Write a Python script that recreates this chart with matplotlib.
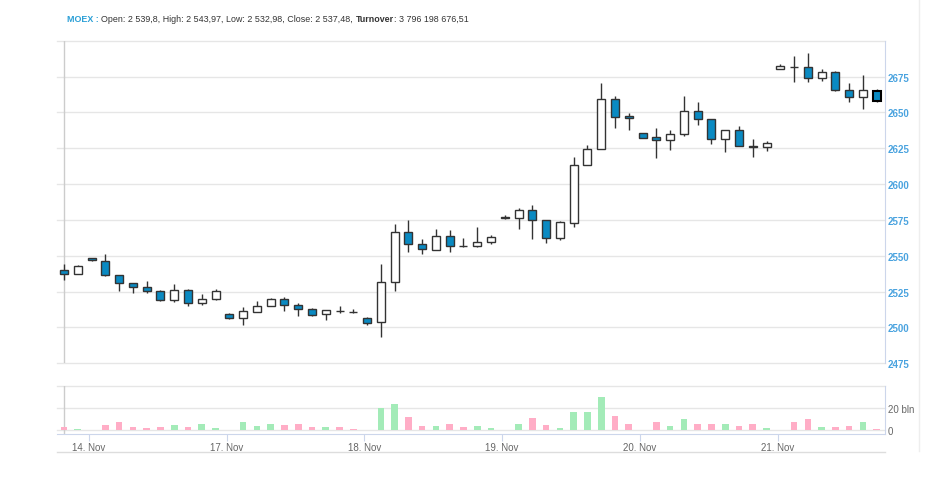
import matplotlib.pyplot as plt
import numpy as np
from matplotlib.patches import Rectangle

# hourly candles, MOEX index
opens = [2539.8, 2537.3, 2548.2, 2546.3, 2536.6, 2530.8, 2528.5, 2525.5, 2519.2, 2526.4,
         2517.1, 2520.1, 2509.5, 2506.25, 2510.6, 2515.0, 2519.7, 2515.7, 2513.2, 2509.3,
         2511.6, 2510.9, 2506.9, 2503.5, 2532.0, 2566.7, 2557.9, 2554.2, 2563.7, 2557.0,
         2556.5, 2559.3, 2576.5, 2576.4, 2581.9, 2574.8, 2562.5, 2573.1, 2613.4, 2624.8,
         2659.5, 2647.2, 2635.4, 2633.1, 2630.8, 2634.7, 2650.7, 2645.1, 2631.3, 2637.5,
         2626.3, 2625.7, 2680.1, 2682.0, 2681.7, 2674.3, 2678.5, 2665.7, 2660.6, 2665.0]
highs = [2543.97, 2543.3, 2548.6, 2550.9, 2536.8, 2531.0, 2532.6, 2526.0, 2530.3, 2526.6,
         2523.1, 2527.1, 2510.0, 2514.6, 2518.5, 2520.8, 2521.5, 2516.9, 2513.9, 2512.2,
         2515.0, 2513.0, 2507.0, 2544.2, 2572.5, 2575.0, 2561.6, 2569.0, 2567.8, 2562.7,
         2570.4, 2564.4, 2578.2, 2583.3, 2585.6, 2575.0, 2574.0, 2618.75, 2627.5, 2670.4,
         2661.6, 2649.5, 2635.6, 2639.1, 2637.5, 2661.6, 2657.2, 2645.5, 2637.8, 2640.3,
         2631.7, 2629.9, 2683.8, 2689.6, 2691.2, 2680.1, 2678.6, 2670.8, 2676.2, 2666.4]
lows = [2532.98, 2537.1, 2546.5, 2536.1, 2525.5, 2524.3, 2523.8, 2518.5, 2517.6, 2515.3,
        2515.7, 2519.4, 2505.6, 2501.9, 2510.5, 2514.8, 2511.6, 2508.1, 2508.1, 2504.9,
        2510.0, 2510.2, 2501.4, 2493.1, 2525.5, 2552.8, 2551.2, 2554.0, 2552.8, 2556.0,
        2556.4, 2558.3, 2575.7, 2568.8, 2561.6, 2558.8, 2560.9, 2570.4, 2613.4, 2624.8,
        2638.9, 2637.5, 2632.0, 2618.3, 2623.6, 2633.3, 2641.4, 2628.2, 2622.5, 2626.4,
        2618.75, 2623.2, 2680.0, 2671.5, 2671.1, 2672.2, 2664.6, 2657.2, 2652.1, 2657.5]
closes = [2537.48, 2543.1, 2547.0, 2536.6, 2530.8, 2528.5, 2525.5, 2519.4, 2526.4, 2517.4,
          2519.9, 2525.5, 2506.5, 2511.6, 2515.3, 2519.9, 2515.7, 2513.2, 2509.0, 2512.0,
          2511.4, 2510.7, 2503.0, 2531.5, 2566.7, 2557.9, 2554.4, 2563.7, 2556.9, 2556.8,
          2559.3, 2563.2, 2576.7, 2581.9, 2574.8, 2562.5, 2573.6, 2613.0, 2624.8, 2659.5,
          2647.0, 2646.3, 2632.2, 2630.8, 2634.7, 2650.7, 2645.1, 2631.5, 2637.5, 2626.6,
          2626.1, 2628.5, 2682.2, 2681.8, 2674.3, 2678.2, 2665.7, 2660.9, 2665.5, 2657.6]
# turnover, bln RUB
volumes = [3.3, 0.9, 0.0, 4.8, 7.6, 3.3, 2.1, 2.7, 4.8, 2.7,
           5.5, 2.1, 0.0, 7.9, 3.9, 6.1, 4.8, 5.5, 2.7, 2.7,
           2.7, 1.2, 0.0, 20.6, 23.6, 12.1, 3.9, 3.9, 5.5, 3.3,
           3.9, 1.8, 0.0, 6.1, 10.9, 4.8, 2.1, 16.7, 16.7, 30.0,
           13.3, 5.5, 0.0, 7.9, 3.9, 10.0, 5.5, 5.5, 6.1, 3.9,
           6.1, 1.8, 0.0, 7.6, 10.6, 2.7, 3.3, 3.9, 7.3, 1.2]
day_labels = ["14. Nov", "17. Nov", "18. Nov", "19. Nov", "20. Nov", "21. Nov"]
day_starts = [2, 12, 22, 32, 42, 52]

W, H = 948, 481
fig = plt.figure(figsize=(W / 100, H / 100), dpi=100)
plt.rcParams['font.family'] = ['Liberation Sans', 'DejaVu Sans']

def box(l, t, r, b):
    return [l / W, 1 - b / H, (r - l) / W, (b - t) / H]

ax = fig.add_axes(box(57, 41.7, 885, 364.3))
axv = fig.add_axes(box(57, 387, 885, 435))

grid_c = "#e6e6e6"
axis_c = "#ccd6eb"
up_fill = "#ffffff"
down_fill = "#0a8ac2"
edge_c = "#333333"

xs = np.arange(len(opens))
xlim = (-0.51, 59.6)

for i in xs:
    o, h, l, c = opens[i], highs[i], lows[i], closes[i]
    lw = 1.0
    ec = edge_c
    if i == len(opens) - 1:
        lw = 1.5
        ec = "#000000"
    ax.plot([i, i], [l, h], color=edge_c, lw=1.0, zorder=2, solid_capstyle="butt")
    bottom = min(o, c)
    height = max(abs(c - o), 0.15)
    fc = up_fill if c >= o else down_fill
    ax.add_patch(Rectangle((i - 0.29, bottom), 0.58, height, facecolor=fc,
                           edgecolor=ec, lw=lw, zorder=3))

ax.set_xlim(*xlim)
ax.set_ylim(2475, 2700)
ax.set_yticks(np.arange(2475, 2701, 25))
for y in np.arange(2475, 2701, 25):
    ax.axhline(y, color=grid_c, lw=1, zorder=0, clip_on=False)
ax.axvline(0, color="#cccccc", lw=1, zorder=1)
ax.yaxis.tick_right()
ax.set_yticklabels([str(v) if v < 2700 else "" for v in np.arange(2475, 2701, 25)])
ax.tick_params(axis="y", length=0, pad=2, labelsize=7, labelcolor="#4aa3df")
for lbl in ax.get_yticklabels():
    lbl.set_fontweight("bold")
ax.set_xticks([])
for s in ["left", "top", "bottom"]:
    ax.spines[s].set_visible(False)
ax.spines["right"].set_color(axis_c)

vol_colors = ["#a3ebb8" if closes[i] >= opens[i] else "#ffadc6" for i in xs]
axv.bar(xs, volumes, width=0.48, color=vol_colors, zorder=2)
axv.set_xlim(*xlim)
axv.set_ylim(-3.4, 40.3)
for y in [0, 20, 40]:
    axv.axhline(y, color=grid_c, lw=1, zorder=0, clip_on=False)
axv.axvline(0, color="#cccccc", lw=1, zorder=1, ymax=(40.3 + 3.4) / 43.7)
axv.yaxis.tick_right()
axv.set_yticks([0, 20])
axv.set_yticklabels(["0", "20 bln"])
axv.tick_params(axis="y", length=0, pad=2, labelsize=7, labelcolor="#666666")
tick_pos = [d - 0.2 for d in day_starts]
axv.set_xticks(tick_pos)
axv.set_xticklabels(day_labels)
axv.tick_params(axis="x", length=5, color=axis_c, labelsize=7, labelcolor="#666666", pad=0.5)
for s in ["left", "top"]:
    axv.spines[s].set_visible(False)
axv.spines["right"].set_color(axis_c)
axv.spines["bottom"].set_color(axis_c)

# bottom rule and container edge
fig.add_artist(plt.Line2D([57 / W, 885 / W], [1 - 453 / H, 1 - 453 / H], color="#dddddd", lw=1))
fig.add_artist(plt.Line2D([919 / W, 919 / W], [1 - 0 / H, 1 - 452 / H], color="#eeeeee", lw=1))

# header
ty = 1 - 19 / H
parts = [("MOEX : ", "#2a9fd6", "bold"),
         ("Open: 2 539,8, High: 2 543,97, Low: 2 532,98, Close: 2 537,48, ", "#333333", "normal"),
         ("Turnover", "#333333", "bold"),
         (": 3 796 198 676,51", "#333333", "normal")]
fig.canvas.draw()
renderer = fig.canvas.get_renderer()
x = 67 / W
for txt, col, wt in parts:
    t = fig.text(x, ty, txt, color=col, fontweight=wt, fontsize=6.4, va="center", ha="left")
    bb = t.get_window_extent(renderer=renderer)
    x += bb.width / W

fig.savefig("out.png", dpi=100)
